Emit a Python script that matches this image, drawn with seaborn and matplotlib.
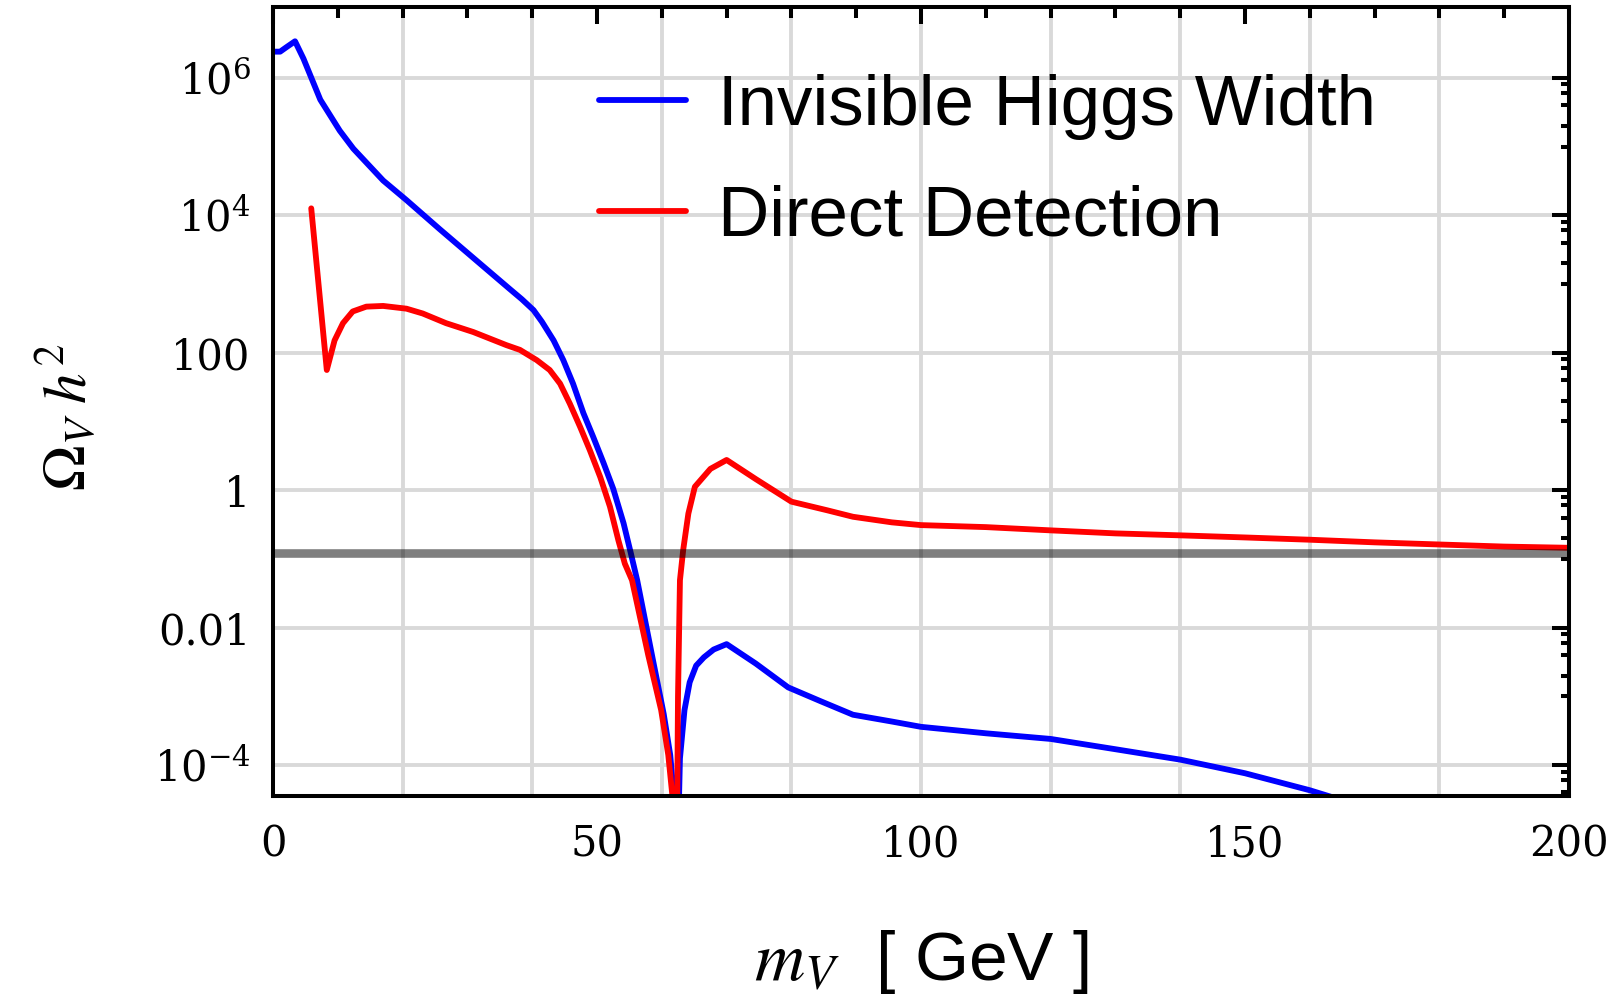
import numpy as np
import pandas as pd
import matplotlib
matplotlib.use("Agg")
import matplotlib.pyplot as plt
import seaborn as sns
from matplotlib.ticker import FixedLocator, MultipleLocator, NullFormatter

# ---------------- data ----------------
mass_invisible = [0.0, 1.1, 2.1, 3.4, 4.7, 7.3, 10.3, 12.4, 17.0, 20.6, 25.7, 30.9, 36.5,
                  38.4, 40.2, 41.5, 43.3, 44.8, 46.3, 47.9, 49.4, 51.0, 52.5, 54.1,
                  55.1, 56.2, 58.6, 60.3, 61.3, 62.0, 62.4, 62.8, 63.5, 64.3, 65.3,
                  66.5, 68.0, 70.0, 74.5, 79.5, 84.5, 89.5, 95.5, 100.0, 110.0, 120.0,
                  130.0, 140.0, 150.0, 160.0, 170.0]
omega_invisible = [2.4e6, 2.4e6, 2.8e6, 3.4e6, 1.9e6, 4.8e5, 1.7e5, 9.3e4, 3.2e4, 1.66e4,
                   6.3e3, 2.4e3, 850, 600, 417, 282, 151, 78, 35.5, 13.2, 6.0, 2.5,
                   1.05, 0.33, 0.135, 0.049, 3.5e-3, 5.5e-4, 1.4e-4, 2.5e-5, 3.0e-6,
                   1.25e-4, 6.3e-4, 1.6e-3, 2.8e-3, 3.7e-3, 4.8e-3, 5.75e-3, 3.0e-3,
                   1.35e-3, 8.5e-4, 5.4e-4, 4.3e-4, 3.6e-4, 2.9e-4, 2.4e-4, 1.7e-4,
                   1.2e-4, 7.6e-5, 4.3e-5, 2.2e-5]

mass_direct = [5.9, 8.3, 9.5, 10.8, 12.3, 14.4, 17.0, 20.6, 23.1, 26.7, 30.9, 36.0, 38.1,
               40.7, 42.7, 44.3, 45.8, 47.4, 48.9, 50.5, 52.0, 53.3, 54.3, 55.4, 57.9,
               59.9, 61.0, 61.8, 62.3, 62.5, 62.8, 63.3, 64.1, 65.1, 67.5, 70.0, 74.5,
               80.0, 85.5, 89.5, 95.5, 100.0, 110.0, 120.0, 130.0, 140.0, 150.0, 160.0,
               170.0, 180.0, 190.0, 200.0]
omega_direct = [1.26e4, 56, 151, 269, 398, 468, 479, 437, 372, 269, 200, 129, 110, 78, 56,
                35.5, 18.2, 8.3, 3.8, 1.55, 0.575, 0.186, 0.085, 0.049, 4.0e-3, 6.3e-4,
                1.4e-4, 2.5e-5, 3.2e-6, 1.0e-3, 0.049, 0.135, 0.457, 1.12, 2.04, 2.75,
                1.45, 0.68, 0.51, 0.41, 0.34, 0.31, 0.29, 0.26, 0.235, 0.22, 0.205,
                0.19, 0.174, 0.162, 0.151, 0.145]

relic_density = 0.12

series_labels = ["Invisible Higgs Width", "Direct Detection"]
series_colors = ["#0000ff", "#ff0000"]
x_ticks = [0, 50, 100, 150, 200]
y_ticks = [1e-4, 1e-2, 1, 1e2, 1e4, 1e6]
y_tick_labels = [r"$10^{-4}$", "0.01", "1", "100", r"$10^{4}$", r"$10^{6}$"]
x_label = r"$m_V$  [ GeV ]"
y_label = r"$\Omega_V\;h^2$"

# ---------------- style ----------------
sns.set_theme(style="white")
plt.rcParams["font.family"] = ["DejaVu Serif", "DejaVu Sans"]
plt.rcParams["mathtext.fontset"] = "dejavuserif"

fig = plt.figure(figsize=(16.18, 9.94), dpi=100)
ax = fig.add_axes([0.16873, 0.19920, 0.80099, 0.79376])
ax.set_yscale("log")

df_inv = pd.DataFrame({"mass": mass_invisible, "omega": omega_invisible})
df_dd = pd.DataFrame({"mass": mass_direct, "omega": omega_direct})

sns.lineplot(data=df_inv, x="mass", y="omega", color=series_colors[0], lw=4.2,
             label=series_labels[0], ax=ax, zorder=3)
sns.lineplot(data=df_dd, x="mass", y="omega", color=series_colors[1], lw=4.2,
             label=series_labels[1], ax=ax, zorder=4)

ax.axhline(relic_density, color="black", alpha=0.5, lw=6.2, zorder=5)

ax.set_xlim(0, 200)
ax.set_ylim(10 ** -4.45, 10 ** 7.03)

# grid
ax.set_axisbelow(True)
for gx in np.arange(20, 200, 20):
    ax.axvline(gx, color="#d9d9d9", lw=2.8, zorder=0)
ax.yaxis.set_major_locator(FixedLocator(y_ticks))
ax.set_yticklabels(y_tick_labels)
ax.grid(axis="y", which="major", color="#d9d9d9", lw=2.8)
ax.grid(axis="x", visible=False)
minor_y = [t * f for t in y_ticks for f in (0.8, 0.6, 0.4, 0.2, 0.1)]
ax.yaxis.set_minor_locator(FixedLocator(minor_y))
ax.yaxis.set_minor_formatter(NullFormatter())

ax.set_xticks(x_ticks)
ax.set_xticklabels([str(v) for v in x_ticks])
ax.xaxis.set_minor_locator(MultipleLocator(10))

for sp in ax.spines.values():
    sp.set_color("black")
    sp.set_linewidth(2.9)
    sp.set_zorder(6)

ax.tick_params(which="both", direction="in", top=True, right=True, color="black",
               width=2.9, labelsize=30, labelcolor="black")
ax.tick_params(axis="x", which="major", length=12, pad=20)
ax.tick_params(axis="x", which="minor", length=8)
ax.tick_params(axis="y", which="major", length=12, pad=16)
ax.tick_params(axis="y", which="minor", length=5.5)

ax.set_xlabel(x_label, family=["Liberation Sans", "DejaVu Sans"], fontsize=50,
              color="black", math_fontfamily="stix")
ax.set_ylabel(y_label, fontsize=44, color="black", math_fontfamily="stix")
ax.xaxis.label.set_va("center")
ax.yaxis.label.set_va("center")
ax.xaxis.set_label_coords(0.5, -0.210)
ax.yaxis.set_label_coords(-0.159, 0.48)

leg = ax.legend(loc="upper left", bbox_to_anchor=(0.370, 0.926),
                bbox_transform=fig.transFigure, frameon=False,
                prop={"family": "Liberation Sans", "size": 51},
                handlelength=1.23, handletextpad=0.46, labelspacing=0.64,
                borderpad=0, borderaxespad=0, labelcolor="black")
for line in leg.get_lines():
    line.set_linewidth(4.2)
leg.set_zorder(7)

fig.savefig("out.png", dpi=100)
